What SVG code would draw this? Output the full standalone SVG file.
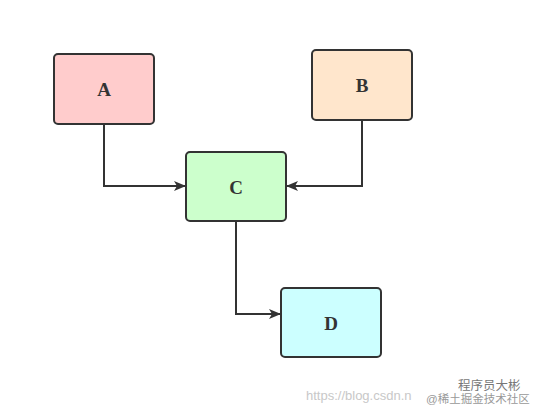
<svg xmlns="http://www.w3.org/2000/svg" width="539" height="413" viewBox="0 0 539 413">
<defs>
<marker id="arr" markerWidth="12" markerHeight="10" refX="11" refY="5" orient="auto" markerUnits="userSpaceOnUse">
<path d="M0,0 L12,5 L0,10 L3,5 Z" fill="#333"/>
</marker>
<style>
.box{stroke:#333;stroke-width:2}
.lbl{font-family:"Liberation Serif",serif;font-weight:bold;font-size:19px;fill:#333;text-anchor:middle;dominant-baseline:central}
.edge{fill:none;stroke:#333;stroke-width:2;marker-end:url(#arr)}
.wm{font-family:"Liberation Sans","Noto Sans CJK SC",sans-serif;font-size:13px;fill:#c8c8c8}
</style>
</defs>
<rect width="539" height="413" fill="#fff"/>
<g id="connectors">
<path class="edge" d="M104,124 V186 H185"/>
<path class="edge" d="M362,120 V186 H287"/>
<path class="edge" d="M236,221 V314 H280"/>
</g>
<g id="A"><rect class="box" x="54" y="54" width="100" height="70" rx="4" fill="#ffcccc"/><text class="lbl" x="104" y="89">A</text></g>
<g id="B"><rect class="box" x="312" y="50" width="100" height="70" rx="4" fill="#ffe6cc"/><text class="lbl" x="362" y="85">B</text></g>
<g id="C"><rect class="box" x="186" y="152" width="100" height="69" rx="4" fill="#ccffcc"/><text class="lbl" x="236" y="187">C</text></g>
<g id="D"><rect class="box" x="281" y="288" width="100" height="69" rx="4" fill="#ccffff"/><text class="lbl" x="331" y="323">D</text></g>
<g id="watermark">
<text class="wm" x="306" y="400">https://blog.csdn.n</text>
<text class="wm" x="426" y="403" style="font-size:11.5px;fill:#999">@稀土掘金技术社区</text>
<text class="wm" x="458" y="390" style="font-size:12.5px;fill:#777">程序员大彬</text>
</g>
</svg>
